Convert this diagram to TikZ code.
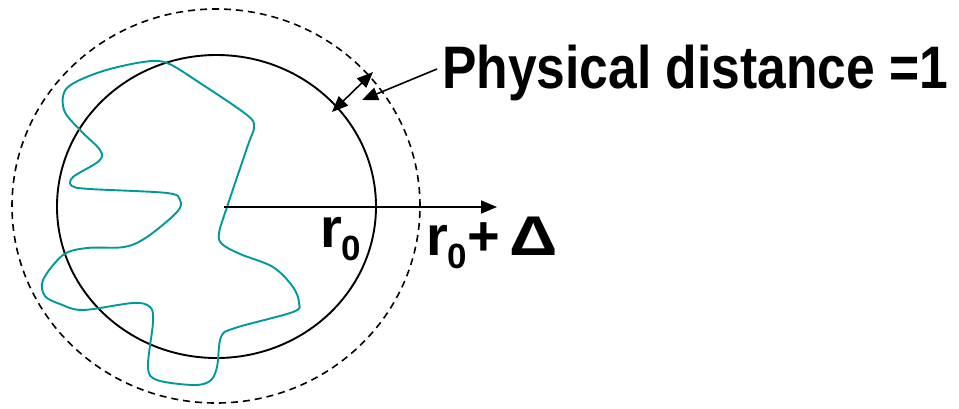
\documentclass[tikz,border=0pt]{standalone}
\usepackage{fontspec}
\setmainfont{Liberation Sans}
\usetikzlibrary{arrows.meta}
\definecolor{tealc}{RGB}{0,153,153}
\begin{document}
\begin{tikzpicture}[x=1pt,y=-1pt,
  solidc/.style={line width=1.9pt},
  dashc/.style={line width=1.6pt,dash pattern=on 7pt off 5pt},
  chain/.style={tealc,line width=1.9pt},
  arr/.style={line width=1.6pt,-{Triangle[length=16pt,width=13pt]}},
  darr/.style={line width=1.6pt,{Triangle[length=16pt,width=13pt]}-{Triangle[length=16pt,width=13pt]}},
  lbl/.style={inner sep=0pt,anchor=base west,font=\bfseries}]
\useasboundingbox (0,0) rectangle (959,408);
\coordinate (c) at (216.5,206.5);
\coordinate (cd) at (216,206);
\draw[solidc] (c) ellipse [x radius=159.5pt, y radius=151.5pt];
\draw[dashc] (cd) ellipse [x radius=204pt, y radius=197pt];
\draw[chain] plot[smooth cycle, tension=0.55] coordinates {
(227,207) (248,145) (254,127) (247,115) (200,83) (167,63) (143,62) (100,72) (67,88) (64,110)
(80,130) (100,150) (99,161) (73,177) (72,186) (90,189) (167,193) (180,200) (177,212)
(147,237) (124,247) (87,248) (63,255) (43,280) (45,296) (60,304) (83,310) (133,303)
(150,307) (153,322) (148,367) (157,380) (193,385) (210,381) (217,367) (221,337)
(235,328) (293,312) (299,303) (293,287) (273,267) (240,254) (222,244) (219,233)};
\coordinate (o) at (224,207);
\coordinate (tip) at (497,207);
\draw[arr] (o) -- (tip);
\coordinate (d1) at (332,112);
\coordinate (d2) at (373,72);
\draw[darr] (d1) -- (d2);
\node[lbl] (pd) at (442,88) {\scalebox{0.86}[1]{\fontsize{60}{72}\selectfont Physical distance =1}};
\coordinate (pfrom) at (437,69);
\coordinate (pto) at (362,100);
\draw[arr] (pfrom) -- (pto);
\node[lbl] (r0) at (320,247) {\fontsize{56}{60}\selectfont r\raisebox{-13pt}{\fontsize{35}{40}\selectfont 0}};
\node[lbl] (r0d) at (426,255) {\fontsize{56}{60}\selectfont r\raisebox{-13pt}{\fontsize{35}{40}\selectfont 0}+\,\scalebox{1.2}[1]{Δ}};
\end{tikzpicture}
\end{document}
